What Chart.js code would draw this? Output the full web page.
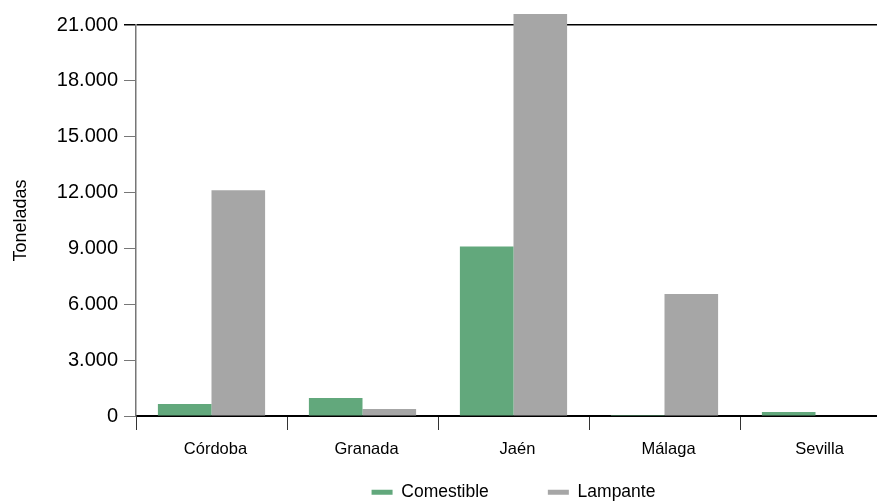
<!DOCTYPE html>
<html>
<head>
<meta charset="utf-8">
<script src="https://cdn.jsdelivr.net/npm/chart.js@4.4.1/dist/chart.umd.min.js"></script>
<style>
html,body{margin:0;padding:0;background:#fff;overflow:hidden;}
#wrap{position:relative;width:891px;height:504px;}
</style>
</head>
<body>
<div id="wrap"><canvas id="c"></canvas></div>
<script>
const categories = ['Córdoba', 'Granada', 'Jaén', 'Málaga', 'Sevilla'];
const comestible = [650, 970, 9100, 60, 215];
const lampante = [12120, 380, 21590, 6550, 0];
const seriesNames = ['Comestible', 'Lampante'];
const yTickValues = [0, 3000, 6000, 9000, 12000, 15000, 18000, 21000];

const FONT = "'Liberation Sans', Arial, sans-serif";
const GREEN = '#62A87C';
const GREY = '#A6A6A6';
const LEGEND_PAD = 59;

// Let the x-axis labels draw below the (compact) layout box of the axis.
const extendXLabelArea = {
  id: 'extendXLabelArea',
  afterLayout(chart) {
    const x = chart.scales.x;
    x.bottom = x.top + 60;
    x.height = 60;
  }
};

new Chart(document.getElementById('c'), {
  type: 'bar',
  data: {
    labels: categories,
    datasets: [
      {label: seriesNames[0], data: comestible, backgroundColor: GREEN, borderWidth: 0, clip: false},
      {label: seriesNames[1], data: lampante, backgroundColor: GREY, borderWidth: 0, clip: false}
    ]
  },
  plugins: [extendXLabelArea],
  options: {
    responsive: true,
    maintainAspectRatio: false,
    animation: false,
    layout: {padding: {top: 25, right: 0, bottom: -7, left: 0}},
    datasets: {bar: {categoryPercentage: 0.71, barPercentage: 1.0}},
    plugins: {
      tooltip: {enabled: false},
      legend: {
        position: 'bottom',
        fullSize: false,
        labels: {
          font: {family: FONT, size: 17.5},
          color: '#000',
          boxWidth: 21,
          boxHeight: 5,
          padding: LEGEND_PAD
        }
      }
    },
    scales: {
      x: {
        offset: true,
        grid: {offset: true, drawOnChartArea: false, tickLength: 14, color: '#333', lineWidth: 1},
        border: {display: true, color: '#000', width: 2},
        ticks: {font: {family: FONT, size: 16.5}, color: '#000', padding: 10, maxRotation: 0, labelOffset: 4},
        afterFit: s => { s.height = 8.5; }
      },
      y: {
        min: 0,
        max: 21000,
        afterBuildTicks: s => { s.ticks = yTickValues.map(v => ({value: v})); },
        grid: {
          tickLength: 12,
          color: ctx => (ctx.tick && ctx.tick.value === 21000) ? '#000' : 'rgba(0,0,0,0)',
          tickColor: ctx => (ctx.tick && ctx.tick.value === 21000) ? '#000' : '#777',
          lineWidth: ctx => (ctx.tick && ctx.tick.value === 21000) ? 1.5 : 1
        },
        border: {display: true, color: '#777', width: 1.5},
        ticks: {
          font: {family: FONT, size: 20},
          color: '#000',
          padding: 6,
          callback: v => v.toLocaleString('de-DE')
        },
        title: {display: true, text: 'Toneladas', font: {family: FONT, size: 18}, color: '#000', padding: {top: 10, bottom: 0}},
        afterFit: s => { s.width = 136; }
      }
    }
  }
});
</script>
</body>
</html>
